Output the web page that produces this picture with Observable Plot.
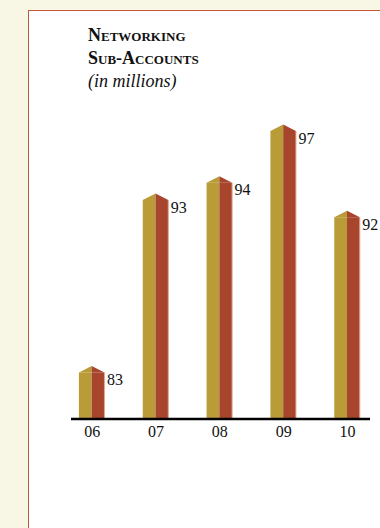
<!DOCTYPE html>
<html>
<head>
<meta charset="utf-8">
<script src="https://cdn.jsdelivr.net/npm/d3@7"></script>
<script src="https://cdn.jsdelivr.net/npm/@observablehq/plot@0.6"></script>
<style>
  html, body { margin: 0; padding: 0; width: 380px; height: 528px; overflow: hidden; background: #f8f6e4; }
  #panel { position: absolute; left: 28px; top: 10px; right: 0; bottom: 0; background: #ffffff;
           border-left: 1.5px solid #c4573c; border-top: 1.5px solid #c4573c; }
  #title { position: absolute; left: 88px; top: 24px; font-family: "Liberation Serif", serif;
           font-size: 18px; line-height: 23px; color: #111; }
  #title .t { font-weight: bold; font-variant: small-caps; }
  #title .s { font-style: italic; }
  #chart { position: absolute; left: 0; top: 0; }
</style>
</head>
<body>
<div id="panel"></div>
<div id="chart"></div>
<div id="title">
  <div class="t">Networking</div>
  <div class="t">Sub-Accounts</div>
  <div class="s">(in millions)</div>
</div>
<script>
// Data
const years = ["06", "07", "08", "09", "10"];
const values = [83, 93, 94, 97, 92];

// Chart constants
const BASE = 80.33;      // bottom of the value scale
const HALF = 0.2;        // half width of a bar (x units)
const RISE = 0.38;       // roof rise (y units)
const gold = "#b99b38";
const red = "#a8452d";

const data = years.map((yr, i) => ({ i, yr, v: values[i] }));

const roofLeft = data.flatMap(d => [
  { i: d.i, x: d.i - HALF, y1: d.v, y2: d.v },
  { i: d.i, x: d.i, y1: d.v, y2: d.v + RISE }
]);
const roofRight = data.flatMap(d => [
  { i: d.i, x: d.i, y1: d.v, y2: d.v + RISE },
  { i: d.i, x: d.i + HALF, y1: d.v, y2: d.v }
]);

const chart = Plot.plot({
  width: 380,
  height: 528,
  marginLeft: 71,
  marginRight: 10,
  marginTop: 131,
  marginBottom: 109.5,
  style: { background: "transparent", fontFamily: "Liberation Serif, serif", fontSize: "16px", color: "#111" },
  x: { type: "linear", domain: [-0.324, 4.36], axis: null, label: null },
  y: { domain: [BASE, 97], axis: null, label: null },
  marks: [
    Plot.rect(data, { x1: d => d.i - HALF, x2: d => d.i, y1: BASE, y2: "v", fill: gold }),
    Plot.rect(data, { x1: d => d.i, x2: d => d.i + HALF, y1: BASE, y2: "v", fill: red }),
    Plot.areaY(roofLeft, { x: "x", y1: "y1", y2: "y2", z: "i", fill: gold, curve: "linear" }),
    Plot.areaY(roofRight, { x: "x", y1: "y1", y2: "y2", z: "i", fill: red, curve: "linear" }),
    Plot.ruleX(data, { x: d => d.i + HALF, y1: BASE, y2: "v", stroke: "#dfa898", strokeWidth: 1, dx: -0.5 }),
    Plot.text(data, { x: d => d.i + HALF, y: "v", text: d => String(d.v), textAnchor: "start",
      lineAnchor: "middle", dx: 2, dy: 7, fill: "#111", fontSize: 16 }),
    Plot.ruleY([BASE], { stroke: "#000", strokeWidth: 2.5 }),
    Plot.axisX({ ticks: data.map(d => d.i), tickFormat: i => years[i], tickSize: 0, tickPadding: 7,
      fontSize: 16, fill: "#111", label: null })
  ]
});
document.getElementById("chart").appendChild(chart);
</script>
</body>
</html>
